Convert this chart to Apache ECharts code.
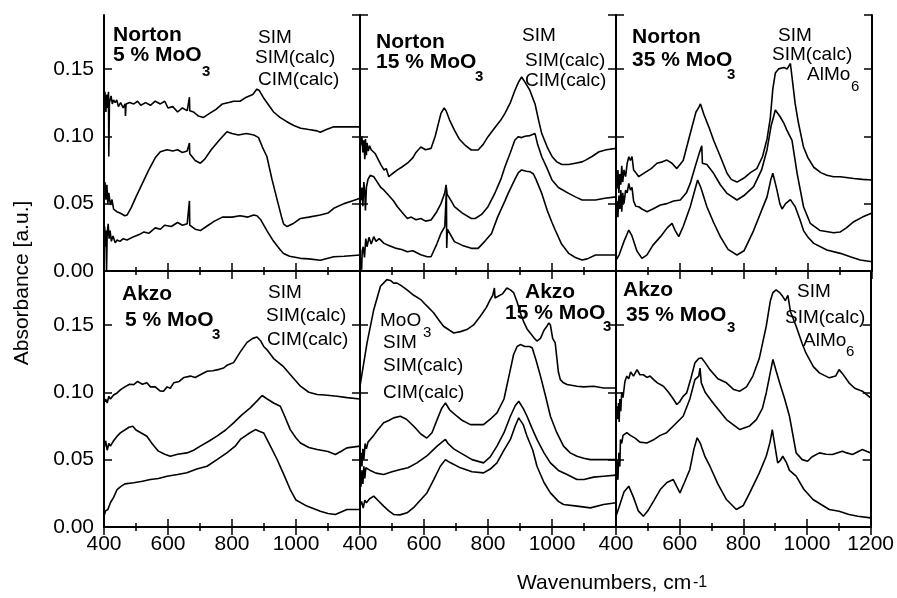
<!DOCTYPE html>
<html>
<head>
<meta charset="utf-8">
<script src="https://cdn.jsdelivr.net/npm/echarts@6/dist/echarts.min.js"></script>
<style>
html, body { margin: 0; padding: 0; background: #fff; }
#chart { width: 897px; height: 598px; }
</style>
</head>
<body>
<div id="chart"></div>
<script>
// spectra: [wavenumber, absorbance]
var nor5SIM = [[400,0.128],[403,0.133],[406,0.118],[409,0.131],[412,0.121],[414,0.133],[415,0.085],[417,0.125],[422,0.130],[426,0.124],[430,0.127],[435,0.125],[440,0.127],[445,0.122],[452,0.125],[460,0.121],[466,0.124],[467,0.115],[469,0.124],[480,0.125],[493,0.124],[505,0.126],[515,0.123],[530,0.125],[545,0.123],[560,0.126],[576,0.124],[590,0.126],[600,0.121],[615,0.122],[630,0.118],[645,0.121],[660,0.119],[666,0.120],[667,0.129],[668,0.119],[680,0.118],[695,0.115],[711,0.114],[730,0.117],[750,0.120],[770,0.124],[790,0.125],[805,0.126],[825,0.126],[845,0.129],[865,0.131],[878,0.135],[885,0.134],[900,0.128],[915,0.123],[930,0.118],[950,0.114],[970,0.111],[993,0.108],[1015,0.106],[1040,0.105],[1066,0.104],[1076,0.103],[1095,0.105],[1118,0.107],[1140,0.107],[1170,0.107],[1200,0.107]];
var nor5SIMcalc = [[400,0.060],[403,0.066],[406,0.053],[409,0.064],[412,0.050],[415,0.058],[420,0.049],[425,0.053],[430,0.046],[440,0.044],[450,0.043],[465,0.041],[472,0.0415],[485,0.047],[500,0.055],[520,0.065],[540,0.075],[560,0.084],[576,0.0885],[597,0.090],[615,0.089],[630,0.090],[645,0.088],[660,0.089],[666,0.089],[667,0.095],[668,0.087],[685,0.082],[701,0.080],[715,0.083],[735,0.090],[760,0.097],[784,0.1034],[800,0.102],[820,0.101],[845,0.102],[868,0.101],[883,0.099],[895,0.092],[909,0.085],[925,0.068],[941,0.053],[955,0.040],[961,0.035],[972,0.033],[990,0.035],[1014,0.039],[1040,0.040],[1076,0.0415],[1100,0.043],[1118,0.0465],[1150,0.050],[1175,0.052],[1200,0.054]];
var nor5CIMcalc = [[400,0.025],[402,0.033],[404,0.018],[406,0.030],[408,0.000],[410,0.028],[413,0.035],[416,0.024],[419,0.030],[423,0.022],[428,0.026],[435,0.021],[441,0.023],[450,0.022],[460,0.024],[472,0.023],[493,0.0255],[510,0.027],[525,0.029],[540,0.028],[560,0.032],[576,0.031],[590,0.034],[610,0.033],[630,0.036],[645,0.034],[660,0.035],[666,0.035],[667,0.052],[668,0.034],[685,0.031],[701,0.030],[720,0.033],[745,0.037],[770,0.040],[800,0.040],[825,0.041],[850,0.040],[868,0.0415],[878,0.041],[890,0.038],[909,0.030],[930,0.022],[950,0.016],[961,0.013],[980,0.011],[1014,0.0094],[1040,0.009],[1076,0.008],[1100,0.0095],[1118,0.0106],[1150,0.011],[1200,0.0119]];

var nor15SIM = [[400,0.092],[403,0.0947],[406,0.100],[409,0.088],[412,0.097],[415,0.083],[417,0.098],[420,0.086],[422,0.095],[426,0.089],[430,0.093],[435,0.090],[440,0.091],[448,0.087],[454,0.087],[465,0.079],[475,0.075],[482,0.076],[490,0.070],[500,0.072],[517,0.075],[530,0.077],[548,0.080],[565,0.084],[575,0.088],[590,0.092],[605,0.090],[622,0.091],[635,0.100],[653,0.117],[663,0.121],[669,0.119],[680,0.112],[695,0.1046],[710,0.098],[730,0.093],[748,0.0898],[769,0.0898],[785,0.094],[800,0.0997],[820,0.106],[840,0.112],[853,0.117],[870,0.125],[884,0.134],[895,0.140],[905,0.144],[916,0.140],[931,0.134],[942,0.127],[947,0.124],[958,0.112],[968,0.102],[985,0.092],[1000,0.085],[1015,0.081],[1031,0.079],[1052,0.079],[1073,0.080],[1094,0.081],[1105,0.0823],[1125,0.085],[1147,0.0885],[1170,0.090],[1200,0.091]];
var nor15SIMcalc = [[400,0.055],[403,0.0527],[406,0.062],[409,0.048],[412,0.066],[415,0.058],[417,0.045],[420,0.062],[425,0.068],[432,0.071],[438,0.0724],[443,0.070],[454,0.066],[465,0.062],[475,0.060],[490,0.056],[505,0.052],[517,0.0477],[530,0.044],[548,0.039],[560,0.040],[575,0.038],[590,0.039],[605,0.037],[622,0.0378],[640,0.044],[653,0.050],[665,0.058],[669,0.064],[672,0.057],[685,0.052],[695,0.0477],[720,0.043],[748,0.039],[760,0.039],[780,0.042],[800,0.0477],[820,0.057],[840,0.068],[853,0.0774],[870,0.088],[884,0.0972],[895,0.0997],[905,0.099],[916,0.100],[931,0.1005],[947,0.102],[955,0.094],[968,0.0848],[985,0.076],[1000,0.0675],[1020,0.062],[1052,0.0576],[1073,0.055],[1094,0.0527],[1136,0.0527],[1165,0.054],[1200,0.055]];
var nor15CIMcalc = [[400,0.012],[403,0.0106],[405,0.001],[407,0.015],[410,0.018],[414,0.010],[418,0.024],[422,0.018],[428,0.025],[435,0.020],[443,0.0255],[450,0.022],[460,0.024],[475,0.0205],[490,0.019],[510,0.017],[530,0.016],[548,0.0143],[565,0.015],[590,0.012],[610,0.0106],[622,0.0106],[640,0.020],[653,0.0279],[665,0.033],[669,0.033],[670,0.060],[671,0.017],[673,0.031],[695,0.0218],[720,0.019],[748,0.0168],[769,0.0168],[790,0.022],[811,0.0279],[830,0.040],[853,0.052],[863,0.0576],[884,0.068],[895,0.073],[905,0.075],[920,0.074],[931,0.0737],[942,0.072],[950,0.068],[968,0.0576],[985,0.045],[1000,0.036],[1010,0.0304],[1030,0.020],[1052,0.0131],[1073,0.010],[1094,0.0082],[1110,0.009],[1136,0.0119],[1160,0.0119],[1200,0.0119]];

var nor35SIM = [[400,0.060],[403,0.062],[406,0.075],[409,0.058],[412,0.072],[415,0.064],[418,0.078],[421,0.066],[425,0.075],[430,0.070],[435,0.080],[440,0.0848],[445,0.082],[450,0.085],[455,0.075],[462,0.073],[471,0.070],[476,0.070],[490,0.073],[510,0.076],[528,0.080],[545,0.081],[559,0.0823],[575,0.080],[590,0.076],[596,0.075],[610,0.082],[632,0.102],[650,0.118],[660,0.122],[664,0.124],[675,0.116],[690,0.107],[705,0.097],[726,0.085],[747,0.0725],[760,0.068],[778,0.066],[800,0.069],[820,0.073],[840,0.076],[858,0.085],[872,0.098],[882,0.113],[890,0.135],[898,0.147],[908,0.150],[913,0.149],[925,0.151],[935,0.150],[945,0.154],[952,0.140],[960,0.124],[970,0.110],[986,0.092],[1000,0.084],[1018,0.077],[1040,0.073],[1059,0.071],[1080,0.070],[1101,0.070],[1143,0.0687],[1170,0.068],[1200,0.0675]];
var nor35SIMcalc = [[400,0.050],[403,0.052],[406,0.040],[409,0.056],[412,0.046],[415,0.060],[418,0.044],[421,0.058],[425,0.050],[430,0.060],[435,0.058],[440,0.065],[445,0.060],[450,0.062],[455,0.052],[462,0.048],[471,0.0477],[481,0.046],[497,0.044],[515,0.046],[539,0.049],[559,0.050],[580,0.052],[601,0.0527],[620,0.058],[632,0.065],[648,0.078],[660,0.0873],[666,0.087],[668,0.093],[670,0.080],[684,0.079],[705,0.0725],[726,0.064],[747,0.0576],[778,0.0527],[800,0.056],[830,0.0626],[855,0.075],[872,0.090],[885,0.108],[898,0.1195],[913,0.1145],[924,0.110],[934,0.1046],[950,0.097],[966,0.0725],[976,0.060],[986,0.0477],[1007,0.0354],[1038,0.030],[1080,0.0284],[1101,0.029],[1120,0.032],[1143,0.0366],[1170,0.040],[1200,0.043]];
var nor35AlMo6 = [[400,0.008],[410,0.012],[425,0.022],[440,0.0304],[450,0.026],[465,0.015],[481,0.0094],[497,0.012],[515,0.019],[539,0.0255],[560,0.032],[575,0.0354],[585,0.030],[596,0.0255],[610,0.033],[632,0.0477],[655,0.0675],[665,0.062],[684,0.0477],[705,0.036],[726,0.0255],[750,0.016],[778,0.0119],[800,0.015],[830,0.030],[855,0.045],[872,0.055],[884,0.068],[890,0.0725],[897,0.066],[903,0.060],[912,0.050],[919,0.046],[930,0.050],[945,0.053],[960,0.0477],[975,0.038],[986,0.030],[1000,0.025],[1018,0.0205],[1059,0.0156],[1101,0.0131],[1132,0.0106],[1163,0.0082],[1200,0.0069]];

var akz5SIM = [[400,0.092],[405,0.095],[410,0.092],[415,0.097],[420,0.095],[430,0.098],[441,0.0995],[452,0.102],[465,0.104],[480,0.106],[493,0.1057],[505,0.108],[520,0.106],[534,0.107],[545,0.104],[560,0.104],[575,0.101],[586,0.1008],[597,0.104],[607,0.103],[618,0.107],[635,0.108],[650,0.111],[670,0.112],[685,0.111],[701,0.113],[722,0.1156],[740,0.116],[760,0.117],[774,0.118],[784,0.120],[805,0.122],[826,0.130],[847,0.137],[865,0.140],[878,0.141],[890,0.138],[899,0.134],[909,0.1317],[930,0.125],[961,0.119],[990,0.111],[1014,0.1045],[1040,0.100],[1066,0.0983],[1090,0.098],[1128,0.097],[1160,0.096],[1200,0.095]];
var akz5SIMcalc = [[400,0.058],[405,0.064],[410,0.057],[415,0.062],[420,0.060],[430,0.064],[441,0.0674],[452,0.070],[465,0.072],[478,0.074],[490,0.0748],[500,0.072],[515,0.070],[534,0.0674],[550,0.062],[570,0.0563],[590,0.054],[607,0.0525],[630,0.054],[659,0.055],[680,0.057],[701,0.060],[730,0.064],[753,0.0674],[780,0.072],[805,0.0773],[830,0.083],[857,0.0884],[880,0.094],[894,0.0976],[910,0.095],[930,0.092],[951,0.0896],[965,0.082],[982,0.0723],[1000,0.066],[1014,0.0624],[1040,0.059],[1066,0.0575],[1100,0.056],[1123,0.0538],[1140,0.056],[1159,0.0587],[1200,0.060]];
var akz5CIMcalc = [[400,0.008],[405,0.012],[412,0.013],[420,0.018],[430,0.022],[441,0.0278],[452,0.030],[465,0.032],[493,0.0328],[520,0.034],[545,0.0352],[570,0.036],[597,0.0377],[630,0.039],[659,0.0402],[690,0.043],[722,0.0451],[753,0.050],[784,0.055],[810,0.060],[826,0.065],[850,0.069],[873,0.0723],[885,0.071],[899,0.0698],[920,0.060],[941,0.0501],[960,0.040],[982,0.0278],[1000,0.020],[1034,0.0155],[1076,0.0117],[1100,0.010],[1123,0.0093],[1159,0.013],[1200,0.013]];

var akz15MoO3 = [[400,0.1045],[422,0.1366],[443,0.1613],[464,0.1787],[484,0.1836],[495,0.183],[505,0.181],[516,0.181],[530,0.179],[547,0.176],[568,0.172],[590,0.1688],[605,0.165],[630,0.159],[645,0.154],[661,0.149],[680,0.146],[693,0.144],[714,0.145],[734,0.1465],[755,0.150],[776,0.1564],[795,0.163],[807,0.1688],[815,0.172],[820,0.1774],[822,0.170],[828,0.170],[845,0.173],[859,0.1774],[870,0.176],[880,0.174],[891,0.167],[901,0.159],[912,0.152],[922,0.147],[932,0.144],[945,0.140],[953,0.138],[964,0.140],[975,0.146],[984,0.149],[990,0.1515],[995,0.150],[1002,0.140],[1010,0.1366],[1020,0.115],[1026,0.1094],[1036,0.107],[1047,0.1057],[1078,0.1045],[1099,0.104],[1130,0.1045],[1161,0.1032],[1200,0.1032]];
var akz15SIM = [[400,0.0476],[403,0.055],[406,0.045],[409,0.058],[412,0.050],[416,0.062],[420,0.058],[425,0.063],[432,0.065],[443,0.068],[455,0.072],[474,0.0773],[490,0.079],[505,0.081],[526,0.0822],[545,0.080],[568,0.0748],[590,0.069],[609,0.066],[625,0.070],[641,0.0797],[655,0.088],[667,0.092],[680,0.087],[703,0.0822],[720,0.079],[745,0.076],[770,0.076],[786,0.076],[807,0.080],[828,0.0847],[850,0.095],[870,0.117],[880,0.128],[891,0.134],[901,0.1354],[915,0.134],[930,0.134],[938,0.133],[950,0.124],[964,0.112],[980,0.097],[995,0.0822],[1015,0.070],[1036,0.060],[1057,0.055],[1078,0.0525],[1099,0.051],[1120,0.050],[1161,0.050],[1200,0.050]];
var akz15SIMcalc = [[400,0.0377],[403,0.030],[406,0.042],[409,0.032],[412,0.045],[415,0.036],[418,0.044],[422,0.0427],[432,0.042],[450,0.040],[474,0.039],[500,0.041],[526,0.0427],[550,0.044],[578,0.0476],[610,0.053],[641,0.060],[660,0.0637],[667,0.065],[675,0.062],[693,0.058],[714,0.055],[750,0.050],[786,0.0476],[807,0.052],[828,0.060],[850,0.070],[870,0.0822],[885,0.090],[896,0.0933],[910,0.088],[922,0.0822],[938,0.073],[953,0.065],[975,0.055],[995,0.0476],[1020,0.042],[1047,0.039],[1078,0.0352],[1100,0.0352],[1130,0.037],[1161,0.0377],[1200,0.0385]];
var akz15CIMcalc = [[400,0.0155],[405,0.019],[410,0.014],[415,0.020],[420,0.018],[430,0.021],[443,0.0229],[455,0.020],[474,0.0155],[490,0.012],[505,0.0093],[525,0.009],[547,0.0105],[570,0.015],[609,0.0253],[630,0.035],[651,0.0451],[667,0.050],[680,0.048],[714,0.0439],[750,0.041],[786,0.0402],[807,0.043],[828,0.0476],[850,0.057],[870,0.065],[885,0.075],[896,0.081],[910,0.076],[922,0.0674],[940,0.057],[953,0.0451],[975,0.033],[995,0.0253],[1020,0.019],[1036,0.0167],[1078,0.0155],[1120,0.0142],[1161,0.0167],[1200,0.018]];

var akz35SIM = [[400,0.085],[403,0.0896],[406,0.080],[408,0.092],[410,0.078],[412,0.095],[415,0.086],[418,0.100],[422,0.096],[428,0.108],[434,0.112],[440,0.110],[446,0.115],[455,0.112],[466,0.1168],[475,0.113],[486,0.113],[497,0.111],[507,0.112],[520,0.109],[530,0.107],[549,0.1045],[565,0.100],[580,0.095],[591,0.0909],[600,0.093],[611,0.097],[622,0.0995],[635,0.110],[648,0.1218],[660,0.125],[669,0.1255],[680,0.122],[695,0.1168],[720,0.110],[747,0.107],[770,0.102],[789,0.1008],[810,0.104],[830,0.112],[850,0.125],[872,0.149],[885,0.168],[893,0.174],[903,0.176],[914,0.174],[924,0.171],[932,0.168],[940,0.172],[948,0.160],[966,0.149],[985,0.136],[997,0.129],[1020,0.119],[1039,0.1144],[1070,0.1107],[1090,0.112],[1101,0.1168],[1111,0.114],[1132,0.107],[1150,0.103],[1174,0.1008],[1200,0.0958]];
var akz35SIMcalc = [[400,0.040],[403,0.050],[406,0.035],[409,0.055],[412,0.045],[414,0.065],[418,0.062],[422,0.068],[434,0.070],[445,0.068],[460,0.066],[475,0.063],[497,0.0624],[520,0.065],[539,0.068],[559,0.070],[580,0.075],[611,0.0822],[632,0.095],[648,0.1094],[660,0.112],[664,0.118],[668,0.107],[680,0.100],[705,0.092],[747,0.0797],[789,0.0723],[820,0.075],[841,0.0797],[860,0.088],[872,0.0995],[885,0.115],[893,0.1243],[903,0.116],[914,0.107],[930,0.095],[945,0.0822],[966,0.055],[985,0.050],[1002,0.0488],[1015,0.052],[1039,0.055],[1060,0.054],[1080,0.0538],[1111,0.0563],[1125,0.055],[1143,0.0538],[1174,0.0575],[1200,0.055]];
var akz35AlMo6 = [[400,0.008],[410,0.015],[425,0.026],[440,0.0303],[455,0.022],[470,0.012],[486,0.008],[500,0.012],[520,0.020],[539,0.0278],[560,0.033],[580,0.0352],[591,0.030],[601,0.0253],[615,0.033],[632,0.0427],[645,0.058],[655,0.0662],[665,0.062],[680,0.052],[695,0.0451],[720,0.032],[747,0.0204],[778,0.013],[800,0.016],[820,0.0253],[850,0.040],[872,0.0525],[884,0.063],[891,0.0723],[898,0.062],[908,0.0476],[915,0.049],[924,0.0525],[935,0.048],[945,0.042],[966,0.0377],[990,0.028],[1019,0.0204],[1070,0.013],[1101,0.0117],[1132,0.0093],[1160,0.008],[1200,0.0068]];

var FONT = "'Liberation Sans', Arial, Helvetica, sans-serif";
var lefts = [104, 360, 616];
var tops = [15, 271];
var PW = 256, PH = 256;

var panels = [
  { row: 0, col: 0, lines: [nor5SIM, nor5SIMcalc, nor5CIMcalc] },
  { row: 0, col: 1, lines: [nor15SIM, nor15SIMcalc, nor15CIMcalc] },
  { row: 0, col: 2, lines: [nor35SIM, nor35SIMcalc, nor35AlMo6] },
  { row: 1, col: 0, lines: [akz5SIM, akz5SIMcalc, akz5CIMcalc] },
  { row: 1, col: 1, lines: [akz15MoO3, akz15SIM, akz15SIMcalc, akz15CIMcalc] },
  { row: 1, col: 2, lines: [akz35SIM, akz35SIMcalc, akz35AlMo6] }
];

// [x, baseline, text, size, bold]
var labels = [
  [113, 43, 'Norton', 21, 1], [113, 63, '5 % MoO', 21, 1], [202, 77, '3', 15, 1],
  [258, 45, 'SIM', 19], [255, 65, 'SIM(calc)', 19], [258, 87, 'CIM(calc)', 19],
  [376, 50, 'Norton', 21, 1], [376, 70, '15 % MoO', 21, 1], [475, 82, '3', 15, 1],
  [522, 43, 'SIM', 19], [525, 68, 'SIM(calc)', 19], [525, 88, 'CIM(calc)', 19],
  [632, 45, 'Norton', 21, 1], [632, 68, '35 % MoO', 21, 1], [727, 80, '3', 15, 1],
  [778, 43, 'SIM', 19], [772, 62, 'SIM(calc)', 19], [807, 82, 'AlMo', 19], [851, 92, '6', 15],
  [122, 302, 'Akzo', 21, 1], [125, 328, '5 % MoO', 21, 1], [212, 340, '3', 15, 1],
  [268, 300, 'SIM', 19], [266, 323, 'SIM(calc)', 19], [267, 347, 'CIM(calc)', 19],
  [380, 328, 'MoO', 19], [423, 338, '3', 15], [383, 350, 'SIM', 19],
  [383, 373, 'SIM(calc)', 19], [383, 400, 'CIM(calc)', 19],
  [525, 300, 'Akzo', 21, 1], [505, 321, '15 % MoO', 21, 1], [603, 332, '3', 15, 1],
  [623, 298, 'Akzo', 21, 1], [626, 323, '35 % MoO', 21, 1], [727, 333, '3', 15, 1],
  [797, 299, 'SIM', 19], [785, 325, 'SIM(calc)', 19], [803, 348, 'AlMo', 19], [846, 357, '6', 15],
  [517, 591, 'Wavenumbers, cm', 21], [693, 588, '-1', 16]
];

function txt(l) {
  var size = l[3];
  return {
    type: 'text', x: l[0], y: l[1] - 0.36 * size, z: 100, silent: true,
    style: {
      text: l[2], fill: '#000',
      font: (l[4] ? 'bold ' : '') + size + 'px ' + FONT,
      textAlign: 'left', textVerticalAlign: 'middle', verticalAlign: 'middle'
    }
  };
}

var tickStyle = { color: '#000', width: 1.5 };
var lineStyle = { color: '#000', width: 2 };
var grids = [], xAxes = [], yAxes = [], series = [];

panels.forEach(function (p, i) {
  grids.push({ left: lefts[p.col], top: tops[p.row], width: PW, height: PH });
  var base = {
    gridIndex: i, type: 'value', min: 400, max: 1200, interval: 200,
    axisLine: { lineStyle: lineStyle },
    axisTick: { inside: true, length: 8, lineStyle: tickStyle },
    minorTick: { show: true, splitNumber: 2, length: 4, lineStyle: tickStyle },
    splitLine: { show: false }
  };
  xAxes.push(Object.assign({}, base, {
    position: 'bottom',
    axisLabel: {
      show: p.row === 1, color: '#000', fontSize: 21, fontFamily: FONT, margin: 7,
      formatter: function (v) { return (v === 1200 && p.col < 2) ? '' : String(v); }
    }
  }));
  xAxes.push(Object.assign({}, base, { position: 'top', axisLabel: { show: false } }));
  var ybase = {
    gridIndex: i, type: 'value', min: 0, max: 0.19, interval: 0.05,
    axisLine: { lineStyle: lineStyle },
    axisTick: { inside: true, length: 8, lineStyle: tickStyle },
    splitLine: { show: false }
  };
  yAxes.push(Object.assign({}, ybase, {
    position: 'left',
    axisLabel: {
      show: p.col === 0, color: '#000', fontSize: 21, fontFamily: FONT, margin: 10,
      showMaxLabel: false,
      formatter: function (v) {
        return Math.abs(v * 20 - Math.round(v * 20)) > 1e-6 ? '' : v.toFixed(2);
      }
    }
  }));
  yAxes.push(Object.assign({}, ybase, { position: 'right', axisLabel: { show: false } }));
  p.lines.forEach(function (d) {
    series.push({
      type: 'line', xAxisIndex: 2 * i, yAxisIndex: 2 * i, data: d,
      symbol: 'none', silent: true,
      lineStyle: { color: '#000', width: 1.6 }
    });
  });
});

var graphics = labels.map(txt);
graphics.push({
  type: 'text', x: 22, y: 283, rotation: Math.PI / 2, z: 100, silent: true,
  style: {
    text: 'Absorbance [a.u.]', fill: '#000', font: '21px ' + FONT,
    textAlign: 'center', textVerticalAlign: 'middle', verticalAlign: 'middle'
  }
});

var myChart = echarts.init(document.getElementById('chart'));
myChart.setOption({
  animation: false,
  backgroundColor: '#fff',
  grid: grids,
  xAxis: xAxes,
  yAxis: yAxes,
  series: series,
  graphic: graphics
});
</script>
</body>
</html>
